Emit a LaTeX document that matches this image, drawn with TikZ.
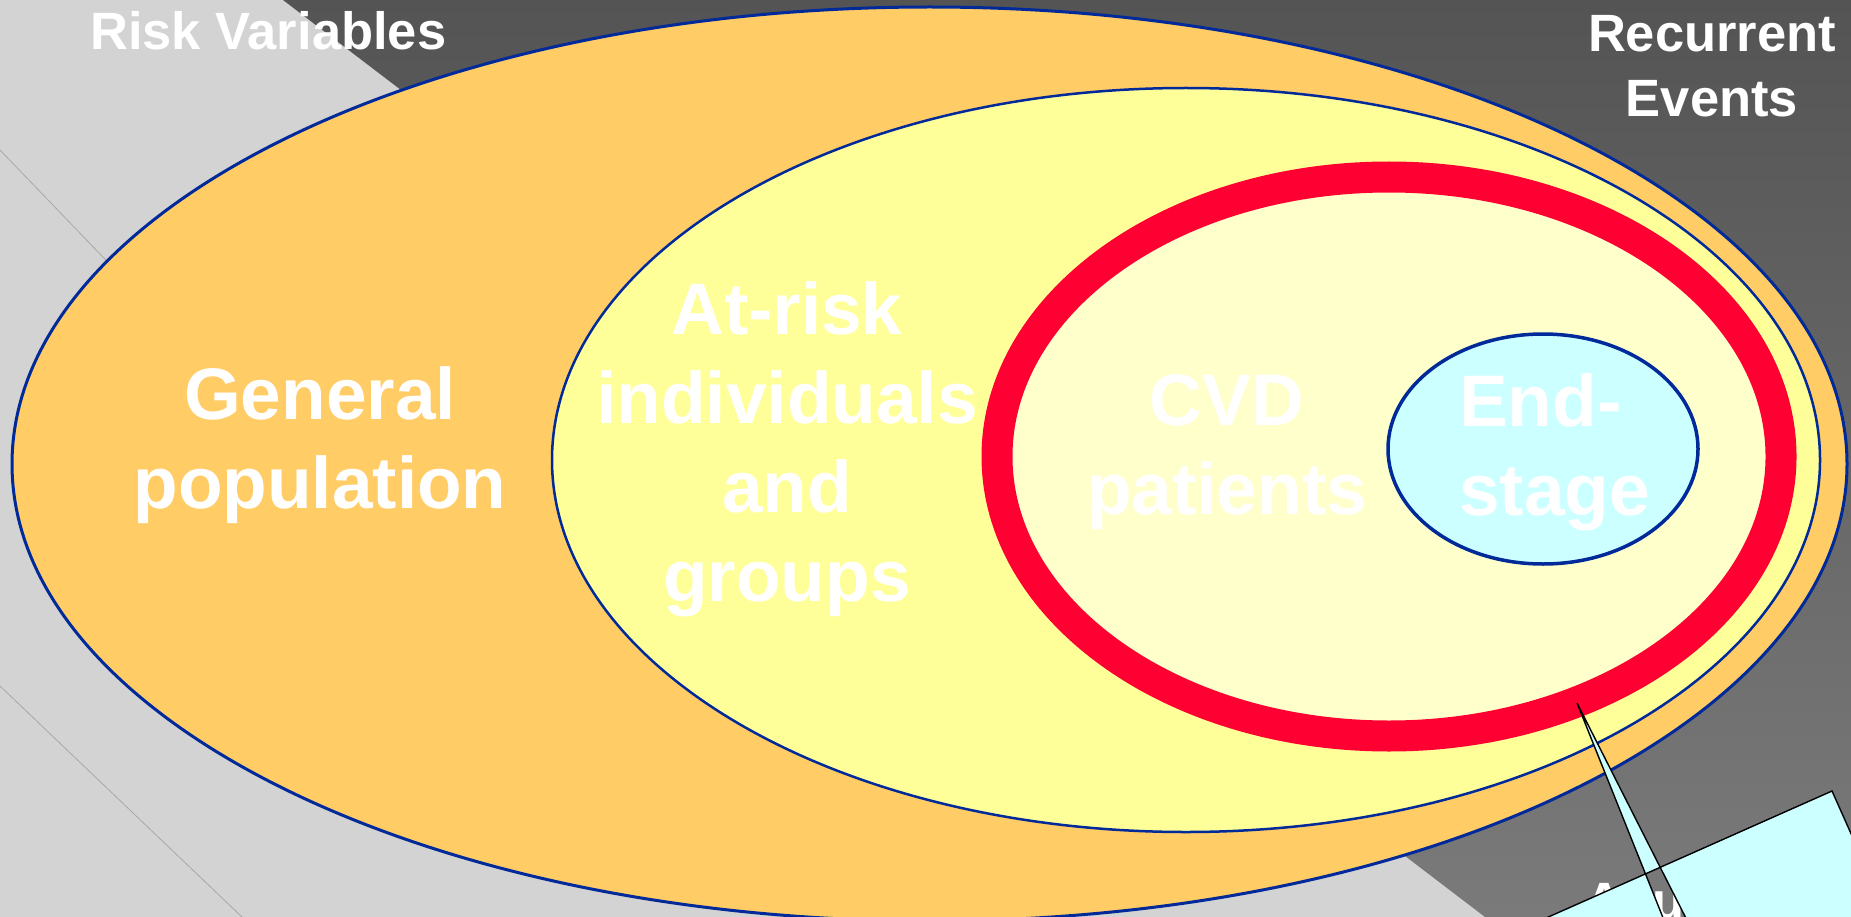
\documentclass[tikz,border=0pt]{standalone}
\usepackage{fontspec}
\setmainfont{Liberation Sans}
\usetikzlibrary{shapes.geometric}
\definecolor{bglight}{HTML}{D3D3D3}
\definecolor{darktop}{HTML}{545454}
\definecolor{darkbot}{HTML}{7A7A7A}
\definecolor{orangeF}{HTML}{FFCC66}
\definecolor{yellowF}{HTML}{FFFF99}
\definecolor{paleF}{HTML}{FFFFCC}
\definecolor{ringred}{HTML}{FF0033}
\definecolor{cyanF}{HTML}{CCFFFF}
\definecolor{edgeblue}{HTML}{002A99}
\definecolor{thinline}{HTML}{A8A8A8}
\begin{document}
\begin{tikzpicture}[x=1pt,y=-1pt,
  lbl/.style={text=white,font=\bfseries\fontsize{73}{89}\selectfont,align=center,inner sep=0pt},
  corner/.style={text=white,font=\bfseries\fontsize{52.5}{65}\selectfont,align=center,inner sep=0pt},
  zone/.style={ellipse,inner sep=0pt,outer sep=0pt},
  callout/.style={fill=cyanF,draw=black,line width=1.4pt,even odd rule,line join=miter}]
\useasboundingbox (0,0) rectangle (1851,917);
\clip (0,0) rectangle (1851,917);
% background
\fill[bglight] (0,0) rectangle (1851,917);
\shade[top color=darktop,bottom color=darkbot] (283,0) -- (1851,0) -- (1851,917) -- (1485,917) -- cycle;
\draw[thinline,line width=0.8pt] (0,150) -- (300,462);
\draw[thinline,line width=0.8pt] (0,686) -- (242,917);
% hidden label behind the callout
\node[corner,anchor=base west] (tac) at (1585,919) {Acute};
% nested zones
\node[zone,draw=edgeblue,line width=3pt,fill=orangeF,minimum width=1835pt,minimum height=914pt] (gen) at (929.5,464) {};
\node[zone,draw=edgeblue,line width=2.5pt,fill=yellowF,minimum width=1268pt,minimum height=744pt] (atrisk) at (1186,460) {};
\node[zone,draw=ringred,line width=31pt,fill=paleF,minimum width=784pt,minimum height=559pt] (cvd) at (1389,456.5) {};
\node[zone,draw=edgeblue,line width=3.5pt,fill=cyanF,minimum width=310pt,minimum height=230pt] (endst) at (1543,449) {};
% labels
\node[lbl] (tgen) at (320,445) {General\\population};
\node[lbl] (trisk) at (787,449.5) {At-risk\\individuals\\and\\groups};
\node[lbl] (tcvd) at (1227,452) {CVD\\patients};
\node[lbl,align=left,anchor=west] (tend) at (1459,452) {End-\\stage};
\node[corner,anchor=base west] (trv) at (90,50) {Risk Variables};
\node[corner] (tre) at (1712,66) {Recurrent\\Events};
% callout box with pointer
\coordinate (tip) at (1577,703);
\coordinate (boxtr) at (1832,791);
\coordinate (pl) at (1736,1100);
\coordinate (pr) at (1778,1100);
\path[callout] (boxtr) -- ++(-457,203) -- ++(163,366) -- ++(457,-203) -- cycle
  (tip) -- (pl) -- (pr) -- cycle;
\end{tikzpicture}
\end{document}
